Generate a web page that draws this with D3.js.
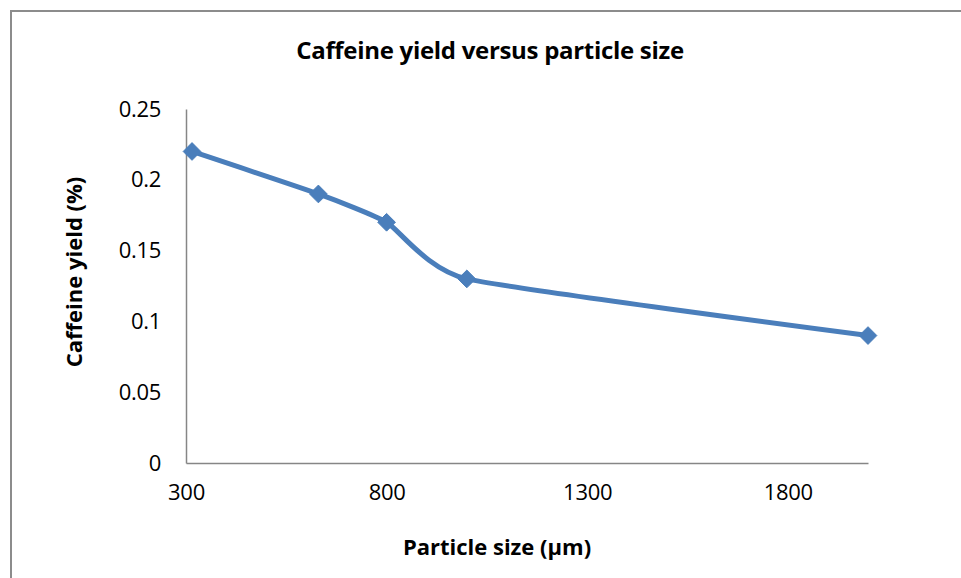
<!DOCTYPE html>
<html>
<head>
<meta charset="utf-8">
<script src="https://cdn.jsdelivr.net/npm/d3@7"></script>
<style>
  body { margin: 0; background: #fff; }
  text { font-family: "Open Sans", "Liberation Sans", sans-serif; }
</style>
</head>
<body>
<svg id="chart" width="961" height="578"></svg>
<script>
// particle size (µm) vs caffeine yield (%)
const sizes = [315, 630, 800, 1000, 2000];
const yields = [0.22, 0.19, 0.17, 0.13, 0.09];
const xTicks = [300, 800, 1300, 1800];
const yTicks = [0, 0.05, 0.1, 0.15, 0.2, 0.25];

const svg = d3.select("#chart");

// outer chart frame
svg.append("rect")
    .attr("x", 11).attr("y", 11)
    .attr("width", 1000).attr("height", 1000)
    .attr("fill", "none")
    .attr("stroke", "#8c8c8c")
    .attr("stroke-width", 2);

const x = d3.scaleLinear().domain([300, 2000]).range([186, 868]);
const y = d3.scaleLinear().domain([0, 0.25]).range([463, 109]);

const xAxis = svg.append("g")
    .attr("transform", "translate(0,463)")
    .call(d3.axisBottom(x).tickValues(xTicks).tickSize(0).tickPadding(21)
        .tickFormat(d3.format("d")));
const yAxis = svg.append("g")
    .attr("transform", "translate(186,0)")
    .call(d3.axisLeft(y).tickValues(yTicks).tickSize(0).tickPadding(25)
        .tickFormat(d => d === 0 ? "0" : String(d)));

[xAxis, yAxis].forEach(function (g) {
    g.select(".domain").attr("stroke", "#868686").attr("stroke-width", 1.5);
    g.selectAll("text")
        .attr("font-family", "'Open Sans', sans-serif")
        .attr("font-size", 22)
        .attr("letter-spacing", -0.3)
        .attr("fill", "#000");
});
xAxis.selectAll("text").attr("dy", "0.71em");

const points = sizes.map((s, i) => [s, yields[i]]);

// smoothed line, close to Excel's look
const line = d3.line()
    .x(d => x(d[0]))
    .y(d => y(d[1]))
    .curve(d3.curveCardinal.tension(0.5));

svg.append("path")
    .datum(points)
    .attr("d", line)
    .attr("fill", "none")
    .attr("stroke", "#4a7ebb")
    .attr("stroke-width", 5);

svg.selectAll(".marker")
    .data(points)
    .enter()
    .append("path")
    .attr("class", "marker")
    .attr("transform", d => "translate(" + x(d[0]) + "," + y(d[1]) + ")")
    .attr("d", d3.symbol().type(d3.symbolDiamond2).size(200))
    .attr("fill", "#4a7ebb")
    .attr("stroke", "#4a7ebb")
    .attr("stroke-width", 1);

// titles
svg.append("text")
    .attr("x", 490).attr("y", 59)
    .attr("text-anchor", "middle")
    .attr("font-size", 24)
    .attr("font-weight", "bold")
    .attr("letter-spacing", -0.3)
    .text("Caffeine yield versus particle size");

svg.append("text")
    .attr("x", 497).attr("y", 555)
    .attr("text-anchor", "middle")
    .attr("font-size", 22)
    .attr("font-weight", "bold")
    .text("Particle size (µm)");

svg.append("text")
    .attr("transform", "translate(82,272) rotate(-90)")
    .attr("text-anchor", "middle")
    .attr("font-size", 22)
    .attr("font-weight", "bold")
    .text("Caffeine yield (%)");
</script>
</body>
</html>
